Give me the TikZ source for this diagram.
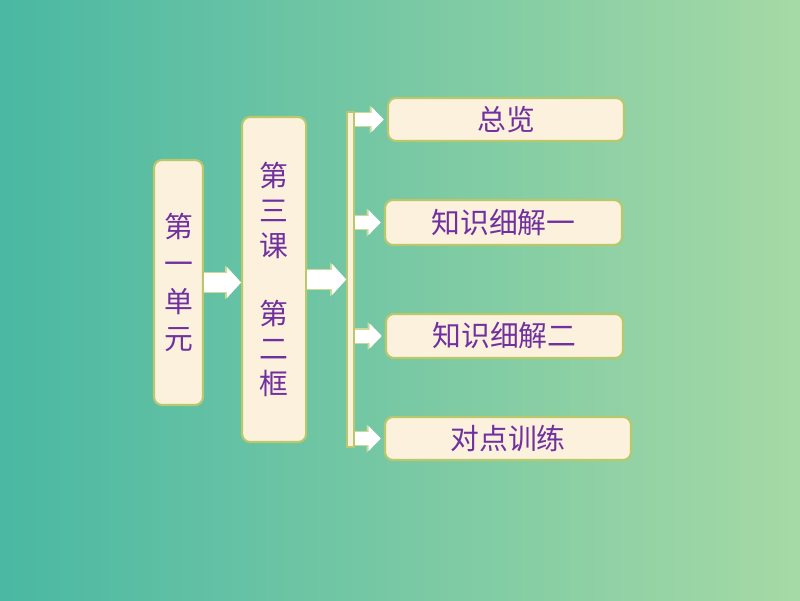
\documentclass[tikz,border=0pt]{standalone}
\usepackage{fontspec}
\newfontfamily\cjk{Noto Sans CJK SC}
\usetikzlibrary{arrows.meta, positioning}
\definecolor{bg_left}{RGB}{74,184,163}
\definecolor{bg_right}{RGB}{166,217,165}
\definecolor{box_fill}{RGB}{252,241,220}
\definecolor{box_edge}{RGB}{184,200,106}
\definecolor{arrow_edge}{RGB}{205,218,150}
\definecolor{label_purple}{RGB}{112,48,160}
\tikzstyle{unit_box} = [rectangle, rounded corners=0.2cm, draw=box_edge, line width=1.5pt, fill=box_fill, text=label_purple, inner sep=0pt, align=center, font=\cjk\fontsize{20.5}{25}\selectfont]
\tikzstyle{topic_box} = [unit_box, minimum height=1.1cm]
\tikzstyle{big_arrow} = [white, line width=0.475cm, -{Triangle[length=0.35cm, width=0.75cm]}, preaction={draw=arrow_edge, line width=0.53cm, -{Triangle[length=0.4cm, width=0.82cm]}}]
\tikzstyle{small_arrow} = [white, line width=0.325cm, -{Triangle[length=0.3cm, width=0.6cm]}, shorten >=0.08cm, preaction={draw=arrow_edge, line width=0.38cm, -{Triangle[length=0.35cm, width=0.67cm]}}]

\begin{document}
\begin{tikzpicture}
\shade [left color=bg_left, right color=bg_right] (0,0) rectangle (20,15);

\node (unit) [unit_box, minimum width=1.225cm, minimum height=6.125cm, font=\cjk\fontsize{20.5}{26.5}\selectfont] at (4.4625,7.9375) {第\\一\\单\\元};
\node (lesson) [unit_box, minimum width=1.6cm, minimum height=8.125cm, right=0.925cm of unit, yshift=0.075cm] {第\\三\\课\\[23.5pt]第\\二\\框};
\node (bar) [unit_box, rounded corners=0pt, line width=1pt, minimum width=0.175cm, minimum height=8.375cm, right=0.975cm of lesson] {};

\node (overview) [topic_box, minimum width=5.9cm, minimum height=1.075cm] at (12.65,12.0125) {总览};
\node (detail_one) [topic_box, minimum width=5.925cm, minimum height=1.125cm] at (12.5875,9.4375) {知识细解一};
\node (detail_two) [topic_box, minimum width=5.925cm] at (12.6125,6.6) {知识细解二};
\node (practice) [topic_box, minimum width=6.15cm, minimum height=1.075cm] at (12.7,4.0375) {对点训练};

\draw [big_arrow] (unit.east) -- (unit.east -| lesson.west);
\draw [big_arrow] (lesson.east) -- (lesson.east -| bar.west);
\foreach \topic in {overview, detail_one, detail_two, practice}
    \draw [small_arrow] (bar.east |- \topic.west) -- (\topic.west);
\end{tikzpicture}
\end{document}
